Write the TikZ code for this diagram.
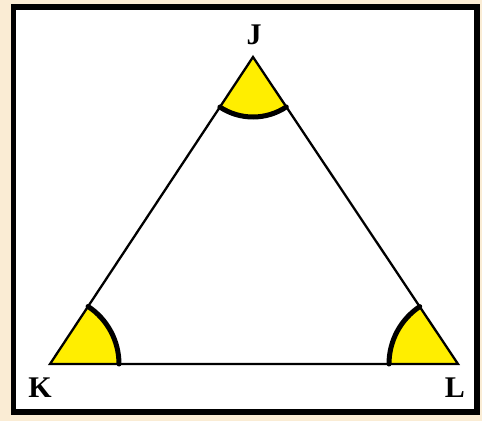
\documentclass[tikz,border=0pt]{standalone}
\usepackage{fontspec}
\setmainfont{Liberation Serif}
\begin{document}
\begin{tikzpicture}[x=1pt,y=-1pt,
  side/.style={line width=2.3pt, black, line join=miter},
  anglearc/.style={line width=5pt, black, line cap=round},
  angfill/.style={fill=sunyellow},
  lbl/.style={font=\fontsize{30}{32}\selectfont\bfseries, inner sep=0pt}]
\definecolor{parch}{RGB}{250,236,212}
\definecolor{sunyellow}{RGB}{255,238,0}
\fill[parch] (0,0) rectangle (482,421);
\useasboundingbox (0,0) rectangle (482,421);
\draw[line width=5.5pt, fill=white] (13.5,7) rectangle (477,412);
\coordinate (J) at (253,57);
\coordinate (K) at (50,364);
\coordinate (L) at (458,364);
% yellow sectors
\fill[angfill] (J) -- ++(56.3:60) arc[start angle=56.3, end angle=123.5, radius=60] -- cycle;
\fill[angfill] (K) -- ++(-56.5:69) arc[start angle=-56.5, end angle=0, radius=69] -- cycle;
\fill[angfill] (L) -- ++(180:69) arc[start angle=180, end angle=236.3, radius=69] -- cycle;
% triangle
\draw[side] (J) -- (K) -- (L) -- cycle;
% angle arcs
\draw[anglearc] (J) ++(56.3:60) arc[start angle=56.3, end angle=123.5, radius=60];
\draw[anglearc] (K) ++(-56.5:69) arc[start angle=-56.5, end angle=0, radius=69];
\draw[anglearc] (L) ++(180:69) arc[start angle=180, end angle=236.3, radius=69];
% labels
\node[lbl] (jl) at (254,35) {J};
\node[lbl] (kl) at (40,388) {K};
\node[lbl] (ll) at (455,388) {L};
\end{tikzpicture}
\end{document}
